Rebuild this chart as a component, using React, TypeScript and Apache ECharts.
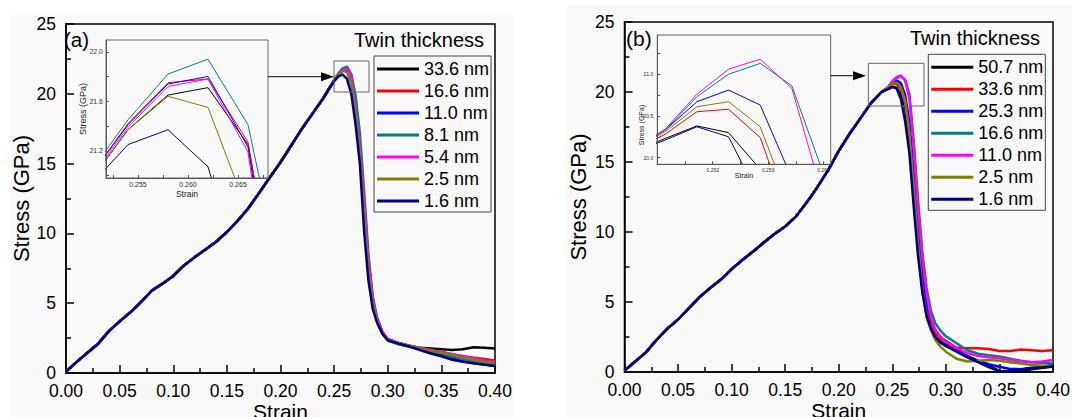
import React, { useEffect, useRef } from "react";
import * as echarts from "echarts";

const FONT = "'Liberation Sans', Arial, Helvetica, sans-serif";

// ---------------- Panel (a) data ----------------
const riseStrainA = [0, 0.01, 0.02, 0.03, 0.04, 0.05, 0.06, 0.07, 0.08, 0.09, 0.1, 0.11, 0.12, 0.13, 0.14, 0.15, 0.16, 0.17, 0.18, 0.19, 0.2, 0.21, 0.22, 0.23, 0.24, 0.246];
const riseStressA = [0.1, 0.8, 1.45, 2.1, 3.0, 3.7, 4.35, 5.1, 5.9, 6.4, 6.95, 7.7, 8.3, 8.85, 9.4, 10.1, 10.9, 11.8, 12.9, 14.0, 15.1, 16.3, 17.5, 18.6, 19.7, 20.45];
const peakStrainA = [0.25, 0.254, 0.258, 0.262, 0.266, 0.27, 0.274, 0.278, 0.282, 0.286, 0.29, 0.295, 0.3];
const tailStrain = [0.31, 0.32, 0.33, 0.34, 0.35, 0.36, 0.37, 0.38, 0.39, 0.4];
const namesA = ["33.6 nm", "16.6 nm", "11.0 nm", "8.1 nm", "5.4 nm", "2.5 nm", "1.6 nm"];

const peakA336 = [20.93, 21.37, 21.65, 21.71, 21.25, 19.5, 16.4, 12.1, 7.8, 5.2, 3.8, 2.9, 2.4];
const peakA166 = [20.97, 21.42, 21.75, 21.78, 21.27, 19.4, 16.4, 12.2, 8.0, 5.3, 3.9, 2.95, 2.45];
const peakA110 = [20.97, 21.41, 21.74, 21.8, 21.23, 19.2, 16.2, 12.0, 7.8, 5.2, 3.8, 2.85, 2.35];
const peakA81 = [21.0, 21.45, 21.82, 21.94, 21.41, 19.9, 17.2, 13.0, 8.5, 5.5, 4.0, 2.9, 2.3];
const peakA54 = [20.95, 21.39, 21.72, 21.78, 21.19, 19.0, 16.2, 12.2, 8.0, 5.3, 3.9, 2.9, 2.4];
const peakA25 = [20.93, 21.37, 21.64, 21.55, 20.7, 18.6, 15.6, 11.3, 7.3, 5.0, 3.7, 2.85, 2.35];
const peakA16 = [20.9, 21.25, 21.37, 21.07, 20.0, 17.8, 15.0, 10.1, 6.6, 4.6, 3.6, 2.8, 2.35];

const tailA336 = [2.15, 1.95, 1.8, 1.75, 1.7, 1.65, 1.7, 1.85, 1.8, 1.75];
const tailA166 = [2.15, 1.95, 1.8, 1.65, 1.5, 1.35, 1.2, 1.1, 1.0, 0.9];
const tailA110 = [2.1, 1.9, 1.7, 1.5, 1.3, 1.05, 0.85, 0.7, 0.6, 0.5];
const tailA81 = [2.05, 1.9, 1.75, 1.6, 1.4, 1.2, 1.0, 0.85, 0.7, 0.6];
const tailA54 = [2.15, 1.95, 1.8, 1.65, 1.5, 1.35, 1.2, 1.05, 0.9, 0.8];
const tailA25 = [2.15, 1.95, 1.75, 1.6, 1.45, 1.3, 1.1, 0.95, 0.8, 0.7];
const tailA16 = [2.1, 1.9, 1.65, 1.4, 1.2, 0.95, 0.8, 0.7, 0.6, 0.5];

// ---------------- Panel (b) data ----------------
const riseStrainB = [0, 0.01, 0.02, 0.03, 0.04, 0.05, 0.06, 0.07, 0.08, 0.09, 0.1, 0.11, 0.12, 0.13, 0.14, 0.15, 0.16, 0.17, 0.18, 0.19, 0.2, 0.21, 0.22, 0.23, 0.24];
const riseStressB = [0.1, 0.75, 1.4, 2.3, 3.1, 3.75, 4.55, 5.35, 6.0, 6.6, 7.35, 8.0, 8.6, 9.25, 9.85, 10.4, 11.1, 12.1, 13.2, 14.4, 15.8, 17.0, 18.1, 19.2, 20.0];
const peakStrainB = [0.246, 0.25, 0.254, 0.258, 0.262, 0.266, 0.27, 0.274, 0.278, 0.282, 0.286, 0.29, 0.295, 0.3];
const namesB = ["50.7 nm", "33.6 nm", "25.3 nm", "16.6 nm", "11.0 nm", "2.5 nm", "1.6 nm"];

const peakB507 = [20.23, 20.38, 20.3, 19.86, 18.9, 16.3, 12.5, 8.8, 6.0, 4.2, 3.2, 2.6, 2.2, 1.95];
const peakB336 = [20.28, 20.55, 20.58, 20.24, 19.17, 17.0, 13.2, 9.3, 6.3, 4.4, 3.3, 2.7, 2.35, 2.2];
const peakB253 = [20.33, 20.67, 20.81, 20.63, 19.75, 17.8, 14.2, 10.2, 7.0, 5.0, 3.8, 3.0, 2.5, 2.2];
const peakB166 = [20.33, 20.73, 21.0, 21.13, 20.86, 19.8, 16.5, 12.3, 8.6, 6.0, 4.4, 3.5, 2.95, 2.55];
const peakB110 = [20.34, 20.76, 21.06, 21.18, 20.83, 19.5, 16.0, 11.8, 8.2, 5.6, 3.9, 3.0, 2.5, 2.15];
const peakB25 = [20.31, 20.61, 20.67, 20.37, 19.37, 17.0, 13.2, 9.2, 6.0, 3.9, 3.0, 2.3, 1.8, 1.45];
const peakB16 = [20.21, 20.37, 20.25, 19.5, 17.9, 15.6, 11.8, 8.3, 5.7, 4.0, 3.1, 2.5, 2.1, 1.85];

const tailB507 = [1.5, 1.15, 0.8, 0.45, 0.08, 0.02, 0.05, 0.2, 0.3, 0.4];
const tailB336 = [1.75, 1.7, 1.7, 1.65, 1.5, 1.5, 1.6, 1.55, 1.5, 1.55];
const tailB253 = [1.6, 1.1, 0.8, 0.55, 0.38, 0.22, 0.2, 0.3, 0.4, 0.5];
const tailB166 = [2.05, 1.55, 1.3, 1.2, 1.1, 0.95, 0.8, 0.7, 0.65, 0.6];
const tailB110 = [1.7, 1.35, 1.15, 1.05, 0.98, 0.85, 0.75, 0.7, 0.75, 0.85];
const tailB25 = [0.95, 0.75, 0.8, 0.85, 0.8, 0.7, 0.6, 0.5, 0.45, 0.4];
const tailB16 = [1.45, 1.05, 0.7, 0.35, 0.05, 0.08, 0.15, 0.25, 0.32, 0.4];

// Axis tick values
const mainXTicks = [0, 0.05, 0.1, 0.15, 0.2, 0.25, 0.3, 0.35, 0.4];
const insetAXLabels = [0.255, 0.26, 0.265];
const insetAYLabels = [21.2, 21.6, 22.0];
const insetBXLabels = [0.252, 0.259, 0.266];
const insetBYLabels = [20.0, 20.5, 21.0];

const COLORS = {
  black: "#000000",
  red: "#ff0000",
  blue: "#0000ff",
  teal: "#008080",
  magenta: "#ff00ff",
  olive: "#808000",
  navy: "#000080",
};
const colorsA = [COLORS.black, COLORS.red, COLORS.blue, COLORS.teal, COLORS.magenta, COLORS.olive, COLORS.navy];
const colorsB = [COLORS.black, COLORS.red, COLORS.blue, COLORS.teal, COLORS.magenta, COLORS.olive, COLORS.navy];

function pairs(xs: number[], ys: number[]) {
  return xs.map((x, i) => [x, ys[i]]);
}
function curve(rx: number[], ry: number[], px: number[], py: number[], tx: number[], ty: number[]) {
  return [...pairs(rx, ry), ...pairs(px, py), ...pairs(tx, ty)];
}

const curvesA = [
  [peakA336, tailA336],
  [peakA166, tailA166],
  [peakA110, tailA110],
  [peakA81, tailA81],
  [peakA54, tailA54],
  [peakA25, tailA25],
  [peakA16, tailA16],
].map(([p, t]) => curve(riseStrainA, riseStressA, peakStrainA, p, tailStrain, t));

const curvesB = [
  [peakB507, tailB507],
  [peakB336, tailB336],
  [peakB253, tailB253],
  [peakB166, tailB166],
  [peakB110, tailB110],
  [peakB25, tailB25],
  [peakB16, tailB16],
].map(([p, t]) => curve(riseStrainB, riseStressB, peakStrainB, p, tailStrain, t));

const BG = "#f9f9f9";

function halfSteps(vals: number[], lo: number, hi: number) {
  const step = vals[1] - vals[0];
  const out: number[] = [];
  for (let v = vals[0] - step; v <= vals[vals.length - 1] + step + 1e-9; v += step / 2) {
    if (v >= lo - 1e-9 && v <= hi + 1e-9) out.push(+v.toFixed(6));
  }
  return out;
}

interface Cfg {
  names: string[];
  colors: string[];
  curves: number[][][];
  grid: any;
  inset: any;
  ix: { min: number; max: number; labels: number[]; digits: number; size: number; margin: number; nameSize: number; nameGap: number };
  iy: { min: number; max: number; labels: number[]; size: number; margin: number; name: boolean; nameSize: number; nameGap: number };
  legend: { left: number; top: number };
  title: { left: number; top: number };
  yNameGap: number;
  graphic: any[];
}

function makeOption(c: Cfg) {
  const axisLineStyle = { color: "#000", width: 1.5 };
  const series: any[] = [];
  c.curves.forEach((d, i) => {
    series.push({
      type: "line",
      name: c.names[i],
      xAxisIndex: 0,
      yAxisIndex: 0,
      data: d,
      showSymbol: false,
      symbol: "none",
      lineStyle: { color: c.colors[i], width: 2.5 },
      itemStyle: { color: c.colors[i] },
      z: 3,
    });
  });
  c.curves.forEach((d, i) => {
    series.push({
      type: "line",
      name: c.names[i],
      xAxisIndex: 1,
      yAxisIndex: 1,
      data: d,
      showSymbol: false,
      symbol: "none",
      clip: true,
      lineStyle: { color: c.colors[i], width: 1 },
      itemStyle: { color: c.colors[i] },
      z: 5,
    });
  });
  return {
    animation: false,
    textStyle: { fontFamily: FONT },
    title: {
      text: "Twin thickness",
      left: c.title.left,
      top: c.title.top,
      padding: 0,
      textStyle: { fontSize: 20, fontWeight: "normal", color: "#000", fontFamily: FONT },
    },
    legend: {
      data: c.names,
      orient: "vertical",
      left: c.legend.left,
      top: c.legend.top,
      icon: "rect",
      itemWidth: 42,
      itemHeight: 3,
      itemGap: 4,
      padding: [4, 2, 2, 3],
      borderColor: "#444",
      borderWidth: 1,
      selectedMode: false,
      textStyle: { fontSize: 18, color: "#000", fontFamily: FONT },
    },
    grid: [
      { ...c.grid, show: true, borderColor: "#000", borderWidth: 1.5, backgroundColor: "transparent", containLabel: false, outerBoundsMode: "none" },
      { ...c.inset, show: true, borderColor: "#666", borderWidth: 1, backgroundColor: BG, containLabel: false, outerBoundsMode: "none", z: 4 },
    ],
    xAxis: [
      {
        type: "value",
        gridIndex: 0,
        min: 0,
        max: 0.4,
        interval: 0.05,
        axisLine: { onZero: false, lineStyle: axisLineStyle },
        axisTick: { inside: true, length: 8, lineStyle: axisLineStyle },
        minorTick: { show: true, splitNumber: 2, length: 5, lineStyle: axisLineStyle },
        axisLabel: { customValues: mainXTicks, fontSize: 17.5, color: "#000", margin: 9, fontFamily: FONT, formatter: (v: number) => v.toFixed(2) },
        splitLine: { show: false },
        name: "Strain",
        nameLocation: "middle",
        nameGap: 28,
        nameMoveOverlap: false,
        nameTextStyle: { fontSize: 21, color: "#000", fontFamily: FONT },
      },
      {
        type: "value",
        gridIndex: 1,
        min: c.ix.min,
        max: c.ix.max,
        axisLine: { onZero: false, lineStyle: { color: "#555", width: 1 } },
        axisTick: { inside: true, length: 3, customValues: halfSteps(c.ix.labels, c.ix.min, c.ix.max), lineStyle: { color: "#555", width: 1 } },
        axisLabel: { customValues: c.ix.labels, fontSize: c.ix.size, color: "#333", margin: c.ix.margin, fontFamily: FONT, formatter: (v: number) => v.toFixed(c.ix.digits) },
        splitLine: { show: false },
        name: "Strain",
        nameLocation: "middle",
        nameGap: c.ix.nameGap,
        nameMoveOverlap: false,
        nameTextStyle: { fontSize: c.ix.nameSize, color: "#222", fontFamily: FONT },
        z: 6,
      },
    ],
    yAxis: [
      {
        type: "value",
        gridIndex: 0,
        min: 0,
        max: 25,
        interval: 5,
        axisLine: { onZero: false, lineStyle: axisLineStyle },
        axisTick: { inside: true, length: 8, lineStyle: axisLineStyle },
        minorTick: { show: true, splitNumber: 2, length: 5, lineStyle: axisLineStyle },
        axisLabel: { fontSize: 17.5, color: "#000", margin: 10, fontFamily: FONT },
        splitLine: { show: false },
        name: "Stress (GPa)",
        nameLocation: "middle",
        nameGap: c.yNameGap,
        nameMoveOverlap: false,
        nameTextStyle: { fontSize: 22, color: "#000", fontFamily: FONT },
      },
      {
        type: "value",
        gridIndex: 1,
        min: c.iy.min,
        max: c.iy.max,
        axisLine: { onZero: false, lineStyle: { color: "#555", width: 1 } },
        axisTick: { inside: true, length: 3, customValues: halfSteps(c.iy.labels, c.iy.min, c.iy.max), lineStyle: { color: "#555", width: 1 } },
        axisLabel: { customValues: c.iy.labels, fontSize: c.iy.size, color: "#333", margin: c.iy.margin, fontFamily: FONT, formatter: (v: number) => v.toFixed(1) },
        splitLine: { show: false },
        name: c.iy.name ? "Stress (GPa)" : "",
        nameLocation: "middle",
        nameGap: c.iy.nameGap,
        nameMoveOverlap: false,
        nameTextStyle: { fontSize: c.iy.nameSize, color: "#222", fontFamily: FONT },
        z: 6,
      },
    ],
    graphic: c.graphic,
    series,
  };
}

function arrow(x1: number, x2: number, y: number) {
  return [
    { type: "line", shape: { x1, y1: y, x2: x2 - 11, y2: y }, style: { stroke: "#000", lineWidth: 1 }, z: 10 },
    { type: "polygon", shape: { points: [[x2 - 13, y - 4.5], [x2, y], [x2 - 13, y + 4.5]] }, style: { fill: "#000" }, z: 10 },
  ];
}

const cfgA: Cfg = {
  names: namesA,
  colors: colorsA,
  curves: curvesA,
  grid: { left: 66, top: 24, width: 429, height: 349 },
  inset: { left: 106, top: 40, width: 162, height: 138 },
  ix: { min: 0.2518, max: 0.268, labels: insetAXLabels, digits: 3, size: 7, margin: 3, nameSize: 8.5, nameGap: 11 },
  iy: { min: 20.98, max: 22.095, labels: insetAYLabels, size: 7, margin: 3, name: true, nameSize: 9, nameGap: 19 },
  legend: { left: 374, top: 56 },
  title: { left: 354, top: 30 },
  yNameGap: 34,
  graphic: [
    { type: "rect", shape: { x: 11, y: 15, width: 502, height: 402 }, style: { fill: BG }, z: -10, silent: true },
    { type: "text", x: 64, y: 39.5, style: { text: "(a)", fontSize: 20.5, fontFamily: FONT, fill: "#000", verticalAlign: "middle" }, z: 10 },
    { type: "rect", shape: { x: 334, y: 61, width: 35, height: 31 }, style: { fill: "none", stroke: "#666", lineWidth: 1 }, z: 10 },
    ...arrow(268, 334, 76.7),
  ],
};

const cfgB: Cfg = {
  names: namesB,
  colors: colorsB,
  curves: curvesB,
  grid: { left: 88.5, top: 22, width: 428.5, height: 350 },
  inset: { left: 121.3, top: 35, width: 173.4, height: 129.3 },
  ix: { min: 0.245, max: 0.2669, labels: insetBXLabels, digits: 3, size: 5, margin: 3, nameSize: 7, nameGap: 8 },
  iy: { min: 19.92, max: 21.47, labels: insetBYLabels, size: 5, margin: 4, name: false, nameSize: 7, nameGap: 14 },
  legend: { left: 392.3, top: 54.3 },
  title: { left: 374, top: 27.5 },
  yNameGap: 35.5,
  graphic: [
    { type: "rect", shape: { x: 31, y: 6, width: 505, height: 411 }, style: { fill: BG }, z: -10, silent: true },
    { type: "text", x: 90, y: 38, style: { text: "(b)", fontSize: 21, fontFamily: FONT, fill: "#000", verticalAlign: "middle" }, z: 10 },
    { type: "rect", shape: { x: 332.3, y: 63.3, width: 55.7, height: 42.7 }, style: { fill: "none", stroke: "#666", lineWidth: 1 }, z: 10 },
    {
      type: "text",
      x: 105.7,
      y: 125,
      rotation: Math.PI / 2,
      style: { text: "Stress (GPa)", fontSize: 7, fontFamily: FONT, fill: "#222", align: "center", verticalAlign: "middle" },
      z: 10,
    },
    ...arrow(294.7, 330, 75.7),
  ],
};

function Panel({ cfg, left }: { cfg: Cfg; left: number }) {
  const ref = useRef<HTMLDivElement>(null);
  useEffect(() => {
    if (!ref.current) return;
    const chart = echarts.init(ref.current, undefined, { renderer: "svg" });
    chart.setOption(makeOption(cfg) as any);
    return () => chart.dispose();
  }, [cfg]);
  return <div ref={ref} style={{ position: "absolute", left, top: 0, width: 536, height: 417 }} />;
}

export default function App() {
  return (
    <div style={{ position: "absolute", left: 0, top: 0, width: 1072, height: 417, background: "#fff", overflow: "hidden" }}>
      <Panel cfg={cfgA} left={0} />
      <Panel cfg={cfgB} left={536} />
    </div>
  );
}
